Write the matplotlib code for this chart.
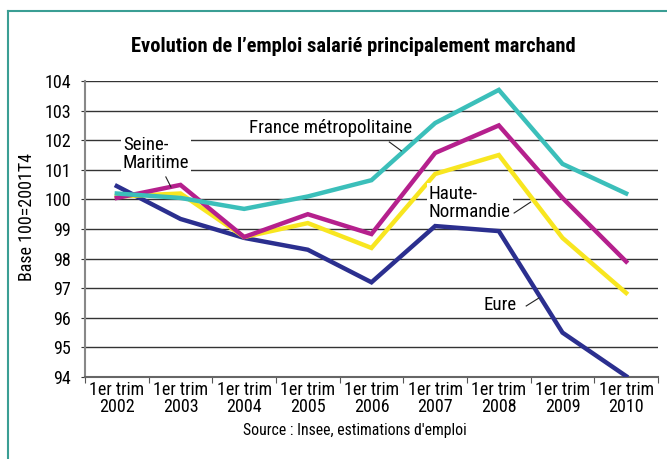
import matplotlib
matplotlib.use("Agg")
import matplotlib.pyplot as plt
from matplotlib.lines import Line2D

plt.rcParams['font.family'] = ['Roboto Condensed', 'DejaVu Sans']

categories = ["1er trim\n2002", "1er trim\n2003", "1er trim\n2004", "1er trim\n2005",
              "1er trim\n2006", "1er trim\n2007", "1er trim\n2008", "1er trim\n2009",
              "1er trim\n2010"]
eure = [100.45, 99.34, 98.7, 98.3, 97.2, 99.1, 98.93, 95.5, 94.03]
seine_maritime = [100.05, 100.49, 98.73, 99.5, 98.83, 101.57, 102.5, 100.05, 97.9]
haute_normandie = [100.1, 100.2, 98.73, 99.2, 98.36, 100.86, 101.5, 98.7, 96.84]
france = [100.2, 100.05, 99.68, 100.1, 100.65, 102.58, 103.7, 101.2, 100.2]
yticks = [94, 95, 96, 97, 98, 99, 100, 101, 102, 103, 104]

fig = plt.figure(figsize=(6.67, 4.59), dpi=100)
ax = fig.add_axes([0.1274, 0.1786, 0.8591, 0.6449])

x = list(range(len(categories)))
lw = 3.2
ax.plot(x, eure, color='#2b2f8f', lw=lw, zorder=3, solid_joinstyle='miter')
ax.plot(x, haute_normandie, color='#f8e620', lw=lw, zorder=3, solid_joinstyle='miter')
ax.plot(x, seine_maritime, color='#b5208d', lw=lw, zorder=3, solid_joinstyle='miter')
ax.plot(x, france, color='#3bbfba', lw=lw, zorder=4, solid_joinstyle='miter')

ax.set_xlim(-0.5, len(categories) - 0.5)
ax.set_ylim(94, 104)
ax.set_yticks(yticks)
ax.set_yticklabels([str(v) for v in yticks], fontsize=13)
for v in yticks[1:]:
    ax.axhline(v, color='#333333', lw=1.0, zorder=1)

ax.set_xticks([i - 0.5 for i in range(len(categories) + 1)], minor=False)
ax.set_xticklabels([])
ax.set_xticks(x, minor=True)
ax.set_xticklabels(categories, minor=True, fontsize=13, linespacing=0.95)
ax.tick_params(axis='x', which='minor', length=0, pad=3)
ax.tick_params(axis='x', which='major', length=4, direction='out', color='#555555')
ax.tick_params(axis='y', length=3, direction='out', color='#333333', pad=7)

for s in ['top', 'right']:
    ax.spines[s].set_visible(False)
ax.spines['left'].set_color('#888888')
ax.spines['left'].set_linewidth(1.5)
ax.spines['bottom'].set_color('#666666')
ax.spines['bottom'].set_linewidth(1.5)

ax.set_ylabel("Base 100=2001T4", fontsize=13)
ax.yaxis.set_label_coords(-0.086, 0.54)

fig.text(0.529, 0.898, "Evolution de l\u2019emploi salarié principalement marchand",
         ha='center', va='center', fontsize=14.8, fontweight='bold')
fig.text(0.532, 0.063, "Source : Insee, estimations d'emploi", ha='center', va='center', fontsize=11.3)

bb = dict(facecolor='white', edgecolor='none', pad=1.5)
ax.text(3.35, 102.41, "France métropolitaine", fontsize=13.6, ha='center', va='center', bbox=bb, zorder=5)
ax.plot([4.28, 4.47], [101.94, 101.64], color='#222222', lw=0.8, zorder=5)
ax.text(0.094, 101.53, "Seine-\nMaritime", fontsize=13.6, ha='left', va='center', bbox=bb, zorder=5, linespacing=1.0)
ax.plot([0.77, 0.85], [100.76, 100.42], color='#222222', lw=0.8, zorder=5)
ax.text(4.9, 99.88, "Haute-\nNormandie", fontsize=13.6, ha='left', va='center', bbox=bb, zorder=5, linespacing=1.0)
ax.plot([6.24, 6.5], [99.54, 99.91], color='#222222', lw=0.8, zorder=5)
ax.text(6.02, 96.43, "Eure", fontsize=13.6, ha='center', va='center', bbox=bb, zorder=5)
ax.plot([6.43, 6.63], [96.4, 96.67], color='#222222', lw=0.8, zorder=5)

frame_c = '#3a9e94'
fig.add_artist(Line2D([8/667, 8/667], [0, 1 - 11/459], color=frame_c, lw=1.5, transform=fig.transFigure))
fig.add_artist(Line2D([8/667, 1], [1 - 11/459, 1 - 11/459], color=frame_c, lw=1.5, transform=fig.transFigure))

fig.savefig("out.png", dpi=100)
